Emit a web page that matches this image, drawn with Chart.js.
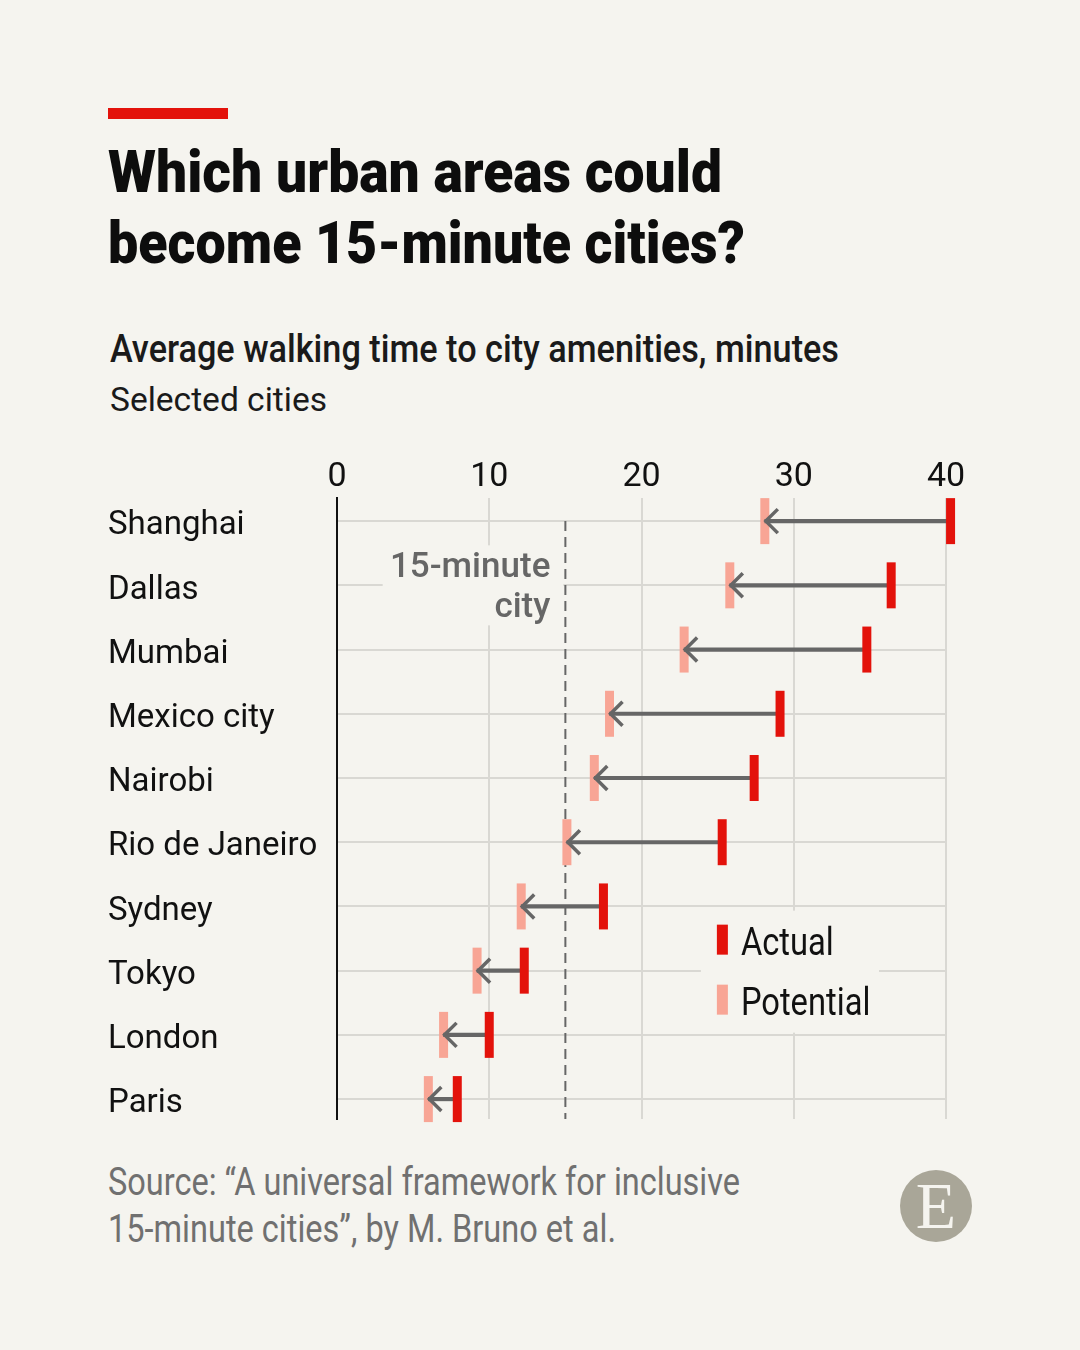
<!DOCTYPE html>
<html>
<head>
<meta charset="utf-8">
<script src="https://cdn.jsdelivr.net/npm/chart.js@4.4.1/dist/chart.umd.min.js"></script>
<style>
  html, body { margin: 0; padding: 0; background: #f5f4ef; }
  body { width: 1080px; height: 1350px; position: relative; overflow: hidden; font-family: Roboto, "Noto Sans", sans-serif; color: #111; }
  .t { position: absolute; left: 108px; white-space: nowrap; transform-origin: 0 0; }
  #bar { position: absolute; left: 108px; top: 108px; width: 120px; height: 11px; background: #e3120b; }
  .title { font-weight: 900; font-size: 60px; line-height: 72px; color: #0d0d0d; }
  #sub1 { font-weight: 500; font-size: 39px; line-height: 47px; color: #1a1a1a; left: 110px; }
  #sub2 { font-weight: 400; font-size: 34px; line-height: 41px; color: #1a1a1a; left: 110px; }
  .src { font-weight: 400; font-size: 38px; line-height: 46px; color: #707070; }
  #chartBox { position: absolute; left: 0; top: 440px; width: 1080px; height: 700px; }
  #chartBox canvas { display: block; }
  #logo { position: absolute; left: 900px; top: 1170px; width: 72px; height: 72px; border-radius: 50%; background: #a9a698;
          color: #f5f4ef; font-family: "Liberation Serif", "DejaVu Serif", serif; font-size: 66px; line-height: 72px; text-align: center; }
</style>
</head>
<body>
<div id="bar"></div>
<div class="t title" id="t1" data-w="614" style="top:136px">Which urban areas could</div>
<div class="t title" id="t2" data-w="637" style="top:207px">become 15-minute cities?</div>
<div class="t" id="sub1" data-w="729" style="top:326px">Average walking time to city amenities, minutes</div>
<div class="t" id="sub2" data-w="217" style="top:379px">Selected cities</div>
<div id="chartBox"><canvas id="c" width="1080" height="700" style="width:1080px;height:700px"></canvas></div>
<div class="t src" data-w="632" style="top:1159px">Source: “A universal framework for inclusive</div>
<div class="t src" data-w="508" style="top:1206px">15-minute cities”, by M. Bruno et al.</div>
<div id="logo">E</div>

<script>
// ---------------- data ----------------
const cities = ['Shanghai', 'Dallas', 'Mumbai', 'Mexico city', 'Nairobi', 'Rio de Janeiro', 'Sydney', 'Tokyo', 'London', 'Paris'];
const actual = [40.3, 36.4, 34.8, 29.1, 27.4, 25.3, 17.5, 12.3, 10.0, 7.9];
const potential = [28.1, 25.8, 22.8, 17.9, 16.9, 15.1, 12.1, 9.2, 7.0, 6.0];
const xTicks = [0, 10, 20, 30, 40];
const threshold = 15;
const thresholdLabel = ['15-minute', 'city'];
const legendLabels = ['Actual', 'Potential'];

// ---------------- styles ----------------
const BG = '#f5f4ef';
const RED = '#e3120b';
const SALMON = '#f8a595';
const ARROW = '#666666';
const GRID = '#d9d8d3';

function fitText() {
  document.querySelectorAll('[data-w]').forEach(el => {
    el.style.transform = 'none';
    const w = el.getBoundingClientRect().width;
    const target = +el.dataset.w;
    el.style.transform = 'scaleX(' + (target / w) + ')';
  });
}

const deco = {
  id: 'deco',
  beforeDatasetsDraw(chart) {
    const { ctx, scales: { x, y }, chartArea } = chart;
    const tx = x.getPixelForValue(threshold);
    const r1 = y.getPixelForValue(1);
    ctx.save();
    ctx.fillStyle = BG;
    ctx.fillRect(x.getPixelForValue(3), r1 - 40, tx - x.getPixelForValue(3) - 2, 80);
    const lx = x.getPixelForValue(23.9);
    const ry7 = y.getPixelForValue(7);
    ctx.fillRect(lx, ry7 - 60, x.getPixelForValue(35.6) - lx, 122);
    ctx.strokeStyle = '#666';
    ctx.lineWidth = 2;
    ctx.setLineDash([10, 6]);
    ctx.beginPath();
    ctx.moveTo(tx, y.getPixelForValue(0));
    ctx.lineTo(tx, chartArea.bottom);
    ctx.stroke();
    ctx.setLineDash([]);
    ctx.fillStyle = '#666';
    ctx.font = '500 35px Roboto';
    ctx.textAlign = 'right';
    ctx.textBaseline = 'alphabetic';
    ctx.fillText(thresholdLabel[0], tx - 15, r1 - 8);
    ctx.fillText(thresholdLabel[1], tx - 15, r1 + 32);
    const colors = [RED, SALMON];
    legendLabels.forEach((lab, k) => {
      const base = ry7 - 16 + k * 60;
      ctx.fillStyle = colors[k];
      ctx.fillRect(lx + 16, base - 30, 11, 30);
      ctx.save();
      ctx.translate(lx + 40, base);
      ctx.scale(0.86, 1);
      ctx.fillStyle = '#111';
      ctx.font = '400 38px Roboto';
      ctx.textAlign = 'left';
      ctx.fillText(lab, 0, 0);
      ctx.restore();
    });
    ctx.restore();
  },
  afterDatasetDraw(chart, args) {
    if (args.index !== 1) return;
    const { ctx, scales: { x, y } } = chart;
    ctx.save();
    ctx.strokeStyle = ARROW;
    ctx.lineWidth = 3.5;
    ctx.lineJoin = 'miter';
    ctx.lineCap = 'butt';
    potential.forEach((v, i) => {
      const px = x.getPixelForValue(v);
      const py = y.getPixelForValue(i);
      ctx.beginPath();
      ctx.moveTo(px + 13, py - 12);
      ctx.lineTo(px + 1, py);
      ctx.lineTo(px + 13, py + 12);
      ctx.stroke();
    });
    ctx.restore();
  }
};

Chart.defaults.font.family = 'Roboto';

const chart = new Chart(document.getElementById('c'), {
  type: 'bar',
  data: {
    datasets: [
      {
        type: 'line', label: 'Potential', indexAxis: 'y',
        data: potential.map((v, i) => ({ x: v, y: i })),
        showLine: false, pointStyle: 'line', pointRadius: 23, pointHoverRadius: 23, pointRotation: 90,
        pointBorderWidth: 9, pointBorderColor: SALMON, pointBackgroundColor: SALMON,
        order: 3, clip: false
      },
      {
        type: 'bar', label: 'Change',
        data: potential.map((v, i) => ({ x: [v, actual[i]], y: i })),
        backgroundColor: ARROW, barThickness: 3.5, order: 2, clip: false
      },
      {
        type: 'line', label: 'Actual', indexAxis: 'y',
        data: actual.map((v, i) => ({ x: v, y: i })),
        showLine: false, pointStyle: 'line', pointRadius: 23, pointHoverRadius: 23, pointRotation: 90,
        pointBorderWidth: 9, pointBorderColor: RED, pointBackgroundColor: RED,
        order: 1, clip: false
      }
    ]
  },
  options: {
    indexAxis: 'y',
    responsive: false,
    animation: false,
    events: [],
    layout: { autoPadding: false, padding: { left: 108, right: 134, top: 0, bottom: 21 } },
    plugins: { legend: { display: false }, tooltip: { enabled: false } },
    scales: {
      x: {
        type: 'linear', position: 'top', min: 0, max: 40, offset: false,
        afterBuildTicks: a => { a.ticks = xTicks.map(v => ({ value: v })); },
        afterFit: a => { a.height = 58; },
        grid: { offset: false, color: c => (c.tick && c.tick.value === 0 ? '#111' : GRID), lineWidth: 2, drawTicks: false },
        border: { display: false },
        ticks: { font: { size: 34 }, color: '#111', padding: 0 }
      },
      y: {
        type: 'linear', reverse: true, min: -0.36, max: 9.31, offset: false,
        afterBuildTicks: a => { a.ticks = cities.map((c, i) => ({ value: i })); },
        afterFit: a => { a.width = 229; a.paddingTop = 0; a.paddingBottom = 0; },
        grid: { offset: false, color: GRID, lineWidth: 2, drawTicks: false },
        border: { display: true, color: '#111', width: 2 },
        ticks: { callback: v => cities[v], font: { size: 33 }, color: '#111', crossAlign: 'far', padding: 0, labelOffset: 5 }
      }
    }
  },
  plugins: [deco]
});

if (document.fonts && document.fonts.ready) { document.fonts.ready.then(fitText); } else { fitText(); }
fitText();
</script>
</body>
</html>
